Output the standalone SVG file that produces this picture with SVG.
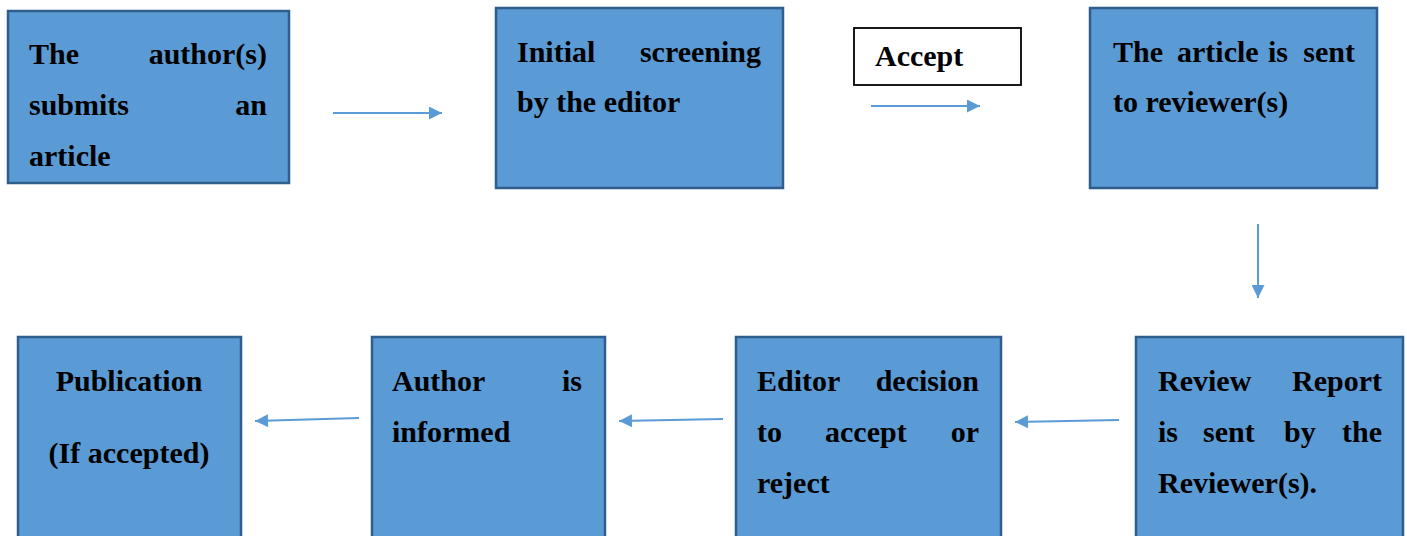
<svg xmlns="http://www.w3.org/2000/svg" width="1407" height="536" viewBox="0 0 1407 536">
<style>
.box{fill:#5B9BD5;stroke:#2F5D8C;stroke-width:2.5}
.lbl{fill:#FFFFFF;stroke:#000000;stroke-width:1.8}
.t text{font-family:'Liberation Serif','DejaVu Serif',serif;font-weight:bold;font-size:30px;fill:#000000}
.e{text-anchor:end}
.c{text-anchor:middle}
.con{stroke:#5B9BD5;stroke-width:2;fill:none;marker-end:url(#ah)}
</style>
<defs>
<marker id="ah" viewBox="0 0 12 12" refX="12" refY="6" markerWidth="14" markerHeight="13" markerUnits="userSpaceOnUse" orient="auto">
<path d="M0,0 L12,6 L0,12 z" fill="#5B9BD5"/>
</marker>
</defs>
<rect width="1407" height="536" fill="#FFFFFF"/>
<g id="connectors">
<line class="con" x1="333" y1="113" x2="442" y2="113"/>
<line class="con" x1="871" y1="106" x2="980" y2="106"/>
<line class="con" x1="1258" y1="224" x2="1258" y2="298"/>
<line class="con" x1="1119" y1="420" x2="1015" y2="422"/>
<line class="con" x1="723" y1="419" x2="619" y2="421"/>
<line class="con" x1="359" y1="418" x2="255" y2="421"/>
</g>
<g id="n-submit" class="t">
<rect class="box" x="8" y="11" width="281" height="172"/>
<text x="29" y="64">The</text><text class="e" x="267" y="64">author(s)</text>
<text x="29" y="115">submits</text><text class="e" x="267" y="115">an</text>
<text x="29" y="166">article</text>
</g>
<g id="n-screen" class="t">
<rect class="box" x="496" y="8" width="287" height="180"/>
<text x="517" y="62">Initial</text><text class="e" x="761" y="62">screening</text>
<text x="517" y="112">by the editor</text>
</g>
<g id="n-accept" class="t">
<rect class="lbl" x="854" y="28" width="167" height="57"/>
<text x="875" y="66">Accept</text>
</g>
<g id="n-sent" class="t">
<rect class="box" x="1090" y="8" width="287" height="180"/>
<text x="1113" y="62">The</text><text x="1177" y="62">article</text><text x="1268" y="62">is</text><text class="e" x="1355" y="62">sent</text>
<text x="1113" y="112">to reviewer(s)</text>
</g>
<g id="n-report" class="t">
<rect class="box" x="1136" y="337" width="267" height="210"/>
<text x="1158" y="391">Review</text><text class="e" x="1382" y="391">Report</text>
<text x="1158" y="442">is</text><text x="1203" y="442">sent</text><text x="1284" y="442">by</text><text class="e" x="1382" y="442">the</text>
<text x="1158" y="493">Reviewer(s).</text>
</g>
<g id="n-decision" class="t">
<rect class="box" x="736" y="337" width="265" height="210"/>
<text x="757" y="391">Editor</text><text class="e" x="979" y="391">decision</text>
<text x="757" y="442">to</text><text x="825" y="442">accept</text><text class="e" x="979" y="442">or</text>
<text x="757" y="493">reject</text>
</g>
<g id="n-informed" class="t">
<rect class="box" x="372" y="337" width="233" height="210"/>
<text x="392" y="391">Author</text><text class="e" x="582" y="391">is</text>
<text x="392" y="442">informed</text>
</g>
<g id="n-publication" class="t">
<rect class="box" x="18" y="337" width="223" height="210"/>
<text class="c" x="129" y="391">Publication</text>
<text class="c" x="129" y="463">(If accepted)</text>
</g>
</svg>
